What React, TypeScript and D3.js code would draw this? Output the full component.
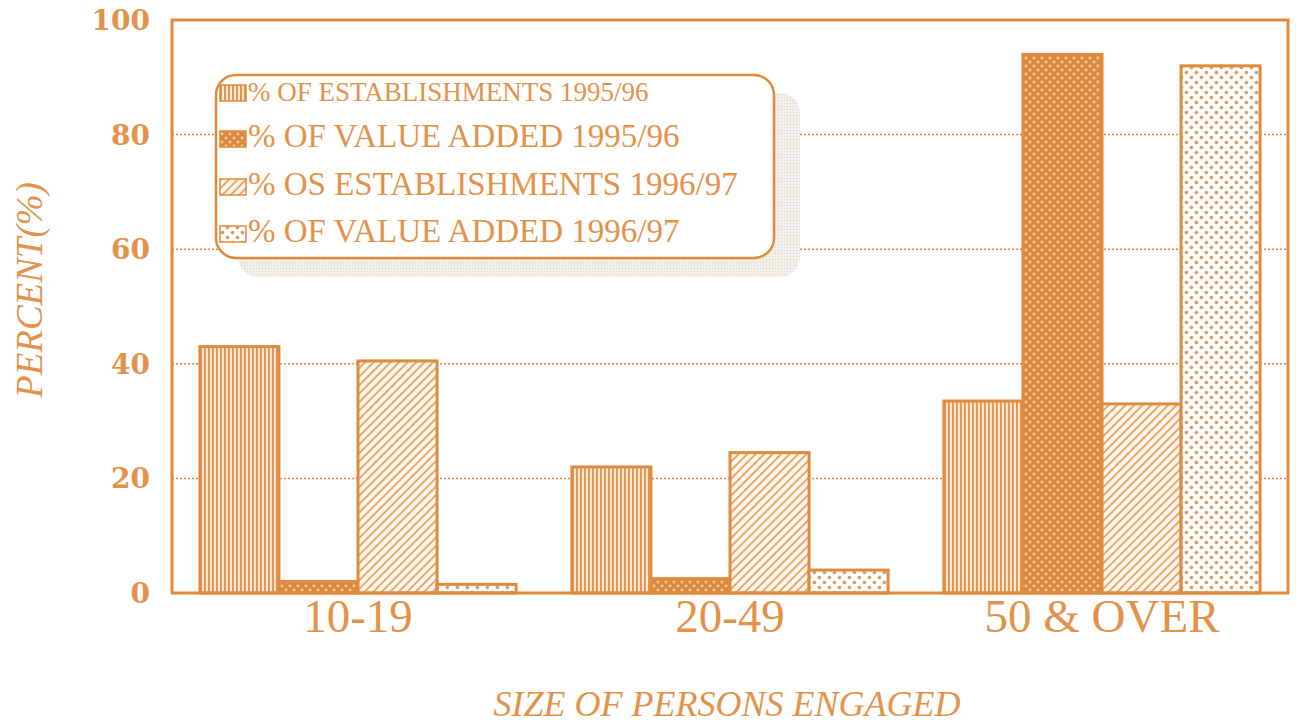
import React from 'react';
import * as d3 from 'd3';

const categories = ['10-19', '20-49', '50 & OVER'];
const seriesNames = [
  '% OF ESTABLISHMENTS 1995/96',
  '% OF VALUE ADDED 1995/96',
  '% OS ESTABLISHMENTS 1996/97',
  '% OF VALUE ADDED 1996/97',
];
const est9596 = [43, 22, 33.5];
const va9596 = [2, 2.5, 94];
const est9697 = [40.5, 24.5, 33];
const va9697 = [1.5, 4, 92];
const yTicks = [0, 20, 40, 60, 80, 100];

const series = [est9596, va9596, est9697, va9697];
const patterns = ['pVert', 'pDotDark', 'pDiag', 'pDotLight'];

const ORANGE = '#e08a3e';
const TEXT = '#e2924a';

const W = 1299, H = 727;
const margin = { top: 20, right: 11, bottom: 134, left: 172 };

export default function App() {
  const x0 = d3.scaleBand()
    .domain(categories)
    .range([margin.left, W - margin.right])
    .paddingInner(0.15)
    .paddingOuter(0.075);

  const x1 = d3.scaleBand()
    .domain(seriesNames)
    .range([0, x0.bandwidth()])
    .padding(0);

  const y = d3.scaleLinear()
    .domain([0, 100])
    .range([H - margin.bottom, margin.top]);

  const legendX = 216, legendY = 75;
  const legendRows = [101, 147, 195, 242];
  const legendSizes = [27, 33, 33, 33];

  return (
    <svg width={W} height={H} style={{ position: 'absolute', left: 0, top: 0, background: '#fff' }}>
      <defs>
        <pattern id="pVert" width="4" height="4" patternUnits="userSpaceOnUse">
          <rect width="4" height="4" fill="#fcebd8" />
          <rect x="0" width="2" height="4" fill="#e39452" />
        </pattern>
        <pattern id="pDotDark" width="8" height="8" patternUnits="userSpaceOnUse">
          <rect width="8" height="8" fill="#dc8840" />
          <circle cx="2" cy="2" r="1.4" fill="#f6cf96" />
          <circle cx="6" cy="6" r="1.4" fill="#f6cf96" />
        </pattern>
        <pattern id="pDiag" width="6" height="6" patternUnits="userSpaceOnUse" patternTransform="rotate(45)">
          <rect width="6" height="6" fill="#fff8f0" />
          <rect x="0" width="2" height="6" fill="#eba86a" />
        </pattern>
        <pattern id="pDotLight" width="10" height="10" patternUnits="userSpaceOnUse">
          <rect width="10" height="10" fill="#fffdf9" />
          <circle cx="2.5" cy="2.5" r="1.8" fill="#cf9a6c" />
          <circle cx="7.5" cy="7.5" r="1.8" fill="#cf9a6c" />
        </pattern>
        <pattern id="pShadow" width="3" height="3" patternUnits="userSpaceOnUse">
          <rect width="3" height="3" fill="#f4f1ec" />
          <circle cx="1.5" cy="1.5" r="0.8" fill="#ddd6cc" />
        </pattern>
      </defs>

      {/* gridlines */}
      {yTicks.filter(t => t > 0 && t < 100).map(t => (
        <line key={t} x1={margin.left} x2={W - margin.right} y1={y(t)} y2={y(t)}
          stroke={ORANGE} strokeWidth={1.5} strokeDasharray="2,2" />
      ))}

      {/* bars */}
      {categories.map((c, i) => (
        <g key={c} transform={`translate(${x0(c)},0)`}>
          {seriesNames.map((s, j) => (
            <rect key={s}
              x={x1(s)}
              y={y(series[j][i])}
              width={x1.bandwidth()}
              height={y(0) - y(series[j][i])}
              fill={`url(#${patterns[j]})`}
              stroke={ORANGE}
              strokeWidth={3} />
          ))}
        </g>
      ))}

      {/* frame */}
      <rect x={margin.left} y={margin.top} width={W - margin.left - margin.right}
        height={H - margin.top - margin.bottom} fill="none" stroke={ORANGE} strokeWidth={3} />

      {/* y tick labels */}
      {yTicks.map(t => (
        <text key={t} x={150} y={y(t)} dy="0.36em" textAnchor="end"
          fontFamily="DejaVu Serif" fontWeight="bold" fontSize={28} fill={TEXT}>{t}</text>
      ))}

      {/* x labels */}
      {categories.map(c => (
        <text key={c} x={(x0(c) as number) + x0.bandwidth() / 2} y={632} textAnchor="middle"
          fontFamily="Liberation Serif" fontSize={47} fill={TEXT}>{c}</text>
      ))}

      <text x={727} y={716} textAnchor="middle" fontFamily="Liberation Serif" fontStyle="italic"
        fontSize={36} fill={TEXT}>SIZE OF PERSONS ENGAGED</text>

      <text transform="translate(42,290) rotate(-90)" textAnchor="middle" fontFamily="Liberation Serif"
        fontStyle="italic" fontSize={37} fill={TEXT}>PERCENT(%)</text>

      {/* legend */}
      <rect x={legendX + 22} y={legendY + 18} width={562} height={184} rx={20} fill="url(#pShadow)" />
      <rect x={legendX} y={legendY} width={558} height={183} rx={20} fill="#fff" stroke={ORANGE} strokeWidth={2.5} />
      {seriesNames.map((s, j) => (
        <g key={s}>
          <rect x={220} y={legendRows[j] - 16} width={26} height={16}
            fill={`url(#${patterns[j]})`} stroke={ORANGE} strokeWidth={1.5} />
          <text x={248} y={legendRows[j]} fontFamily="Liberation Serif" fontSize={legendSizes[j]} fill={TEXT}>{s}</text>
        </g>
      ))}
    </svg>
  );
}
